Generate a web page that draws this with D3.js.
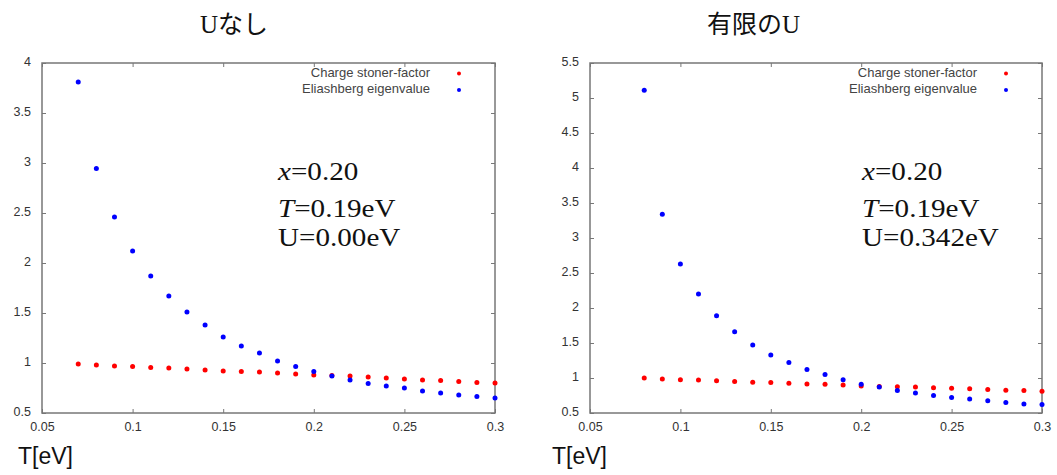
<!DOCTYPE html>
<html>
<head>
<meta charset="utf-8">
<script src="https://cdn.jsdelivr.net/npm/d3@7"></script>
<style>
  body { margin: 0; background: #fff; }
  svg { display: block; }
</style>
</head>
<body>
<div id="chart"></div>
<script>
// data
var temps_a = [0.07, 0.08, 0.09, 0.10, 0.11, 0.12, 0.13, 0.14, 0.15, 0.16, 0.17, 0.18,
               0.19, 0.20, 0.21, 0.22, 0.23, 0.24, 0.25, 0.26, 0.27, 0.28, 0.29, 0.30];
var stoner_a = [0.99, 0.98, 0.97, 0.965, 0.955, 0.95, 0.94, 0.93, 0.92, 0.915, 0.91, 0.90,
                0.89, 0.88, 0.875, 0.87, 0.86, 0.85, 0.84, 0.83, 0.825, 0.815, 0.805, 0.80];
var eliash_a = [3.81, 2.945, 2.46, 2.12, 1.87, 1.67, 1.51, 1.38, 1.26, 1.17, 1.10, 1.02,
                0.965, 0.915, 0.87, 0.83, 0.795, 0.77, 0.75, 0.72, 0.70, 0.68, 0.665, 0.65];

var temps_b = [0.08, 0.09, 0.10, 0.11, 0.12, 0.13, 0.14, 0.15, 0.16, 0.17, 0.18, 0.19,
               0.20, 0.21, 0.22, 0.23, 0.24, 0.25, 0.26, 0.27, 0.28, 0.29, 0.30];
var stoner_b = [1.00, 0.985, 0.975, 0.972, 0.96, 0.95, 0.94, 0.937, 0.925, 0.915, 0.91, 0.90,
                0.885, 0.88, 0.875, 0.87, 0.86, 0.855, 0.845, 0.835, 0.825, 0.82, 0.81];
var eliash_b = [5.11, 3.34, 2.63, 2.20, 1.89, 1.66, 1.47, 1.33, 1.22, 1.12, 1.05, 0.975,
                0.91, 0.87, 0.82, 0.785, 0.75, 0.72, 0.70, 0.675, 0.65, 0.63, 0.62];

var xticks = [0.05, 0.1, 0.15, 0.2, 0.25, 0.3];
var yticks_a = [0.5, 1, 1.5, 2, 2.5, 3, 3.5, 4];
var yticks_b = [0.5, 1, 1.5, 2, 2.5, 3, 3.5, 4, 4.5, 5, 5.5];

var legend_labels = ["Charge stoner-factor", "Eliashberg eigenvalue"];
var colors = ["#ff0000", "#0000ff"];

var svg = d3.select("#chart")
  .append("svg")
  .attr("width", 1057)
  .attr("height", 475);

function drawPanel(opts) {
  var left = opts.left, top = 63, width = opts.width, height = 350;

  var g = svg.append("g")
    .attr("transform", "translate(" + left + "," + top + ")");

  var x = d3.scaleLinear().domain([0.05, 0.3]).range([0, width]);
  var y = d3.scaleLinear().domain(opts.ydomain).range([height, 0]);

  var fmt = function(d) { return String(+d.toFixed(2)); };

  // ticks on all four sides, pointing inward
  function styleAxis(sel) {
    sel.select(".domain").remove();
    sel.selectAll("line").attr("stroke", "#777").attr("stroke-width", 1);
    sel.selectAll("text")
      .attr("fill", "#333")
      .style("font-family", "'Liberation Sans', Arial, sans-serif")
      .style("font-size", "12.5px");
  }

  g.append("g")
    .attr("transform", "translate(0," + height + ")")
    .call(d3.axisBottom(x).tickValues(xticks).tickSizeInner(-4).tickSizeOuter(0).tickPadding(9).tickFormat(fmt))
    .call(styleAxis);

  g.append("g")
    .call(d3.axisTop(x).tickValues(xticks).tickSizeInner(-4).tickSizeOuter(0).tickFormat(""))
    .call(styleAxis);

  g.append("g")
    .call(d3.axisLeft(y).tickValues(opts.yticks).tickSizeInner(-4).tickSizeOuter(0).tickPadding(11).tickFormat(fmt))
    .call(styleAxis)
    .selectAll("text").attr("dy", "0.2em");

  g.append("g")
    .attr("transform", "translate(" + width + ",0)")
    .call(d3.axisRight(y).tickValues(opts.yticks).tickSizeInner(-4).tickSizeOuter(0).tickFormat(""))
    .call(styleAxis);

  // frame
  g.append("rect")
    .attr("width", width)
    .attr("height", height)
    .attr("fill", "none")
    .attr("stroke", "#777")
    .attr("stroke-width", 1.5);

  // points
  var series = [opts.stoner, opts.eliash];
  series.forEach(function(vals, k) {
    g.selectAll(".pt" + k)
      .data(opts.temps)
      .enter()
      .append("circle")
        .attr("class", "pt" + k)
        .attr("cx", function(d) { return x(d); })
        .attr("cy", function(d, i) { return y(vals[i]); })
        .attr("r", 2.5)
        .attr("fill", colors[k]);
  });

  // legend
  var legend = g.append("g").attr("class", "legend");
  legend.selectAll("text")
    .data(legend_labels)
    .enter()
    .append("text")
      .attr("x", width - 65)
      .attr("y", function(d, i) { return 14 + i * 16; })
      .attr("text-anchor", "end")
      .attr("fill", "#444")
      .style("font-family", "'Liberation Sans', Arial, sans-serif")
      .style("font-size", "13px")
      .text(function(d) { return d; });
  legend.selectAll("circle")
    .data(colors)
    .enter()
    .append("circle")
      .attr("cx", width - 36)
      .attr("cy", function(d, i) { return 10.5 + i * 16.5; })
      .attr("r", 2)
      .attr("fill", function(d) { return d; });

  // parameter text (a bit wider than plain Times)
  var ann = g.append("text")
    .attr("transform", "translate(" + opts.annX + ",0) scale(1.12,1)")
    .attr("fill", "#111")
    .style("font-family", "'Liberation Serif', 'Times New Roman', serif")
    .style("font-size", "26px");
  var line1 = ann.append("tspan").attr("x", 0).attr("y", 117);
  line1.append("tspan").style("font-style", "italic").text("x");
  line1.append("tspan").text("=0.20");
  var line2 = ann.append("tspan").attr("x", 0).attr("y", 154);
  line2.append("tspan").style("font-style", "italic").text("T");
  line2.append("tspan").text("=0.19eV");
  ann.append("tspan").attr("x", 0).attr("y", 183).text(opts.ulabel);

  // x label
  svg.append("text")
    .attr("x", opts.labelX)
    .attr("y", 464)
    .attr("fill", "#111")
    .style("font-family", "'Liberation Sans', Arial, sans-serif")
    .style("font-size", "23px")
    .text("T[eV]");

  // title
  var title = svg.append("text")
    .attr("x", opts.titleX)
    .attr("y", 33)
    .attr("fill", "#111")
    .style("font-size", "25px");
  title.selectAll("tspan")
    .data(opts.title)
    .enter()
    .append("tspan")
      .style("font-family", function(d) {
        return d.serif ? "'Liberation Serif', serif" : "'Noto Sans CJK JP', sans-serif";
      })
      .text(function(d) { return d.t; });
}

drawPanel({
  left: 42, width: 453,
  ydomain: [0.5, 4], yticks: yticks_a,
  temps: temps_a, stoner: stoner_a, eliash: eliash_a,
  annX: 236, ulabel: "U=0.00eV", labelX: 18,
  titleX: 200, title: [{t: "U", serif: true}, {t: "なし"}]
});

drawPanel({
  left: 590, width: 452,
  ydomain: [0.5, 5.5], yticks: yticks_b,
  temps: temps_b, stoner: stoner_b, eliash: eliash_b,
  annX: 272, ulabel: "U=0.342eV", labelX: 552,
  titleX: 707, title: [{t: "有限の"}, {t: "U", serif: true}]
});
</script>
</body>
</html>
